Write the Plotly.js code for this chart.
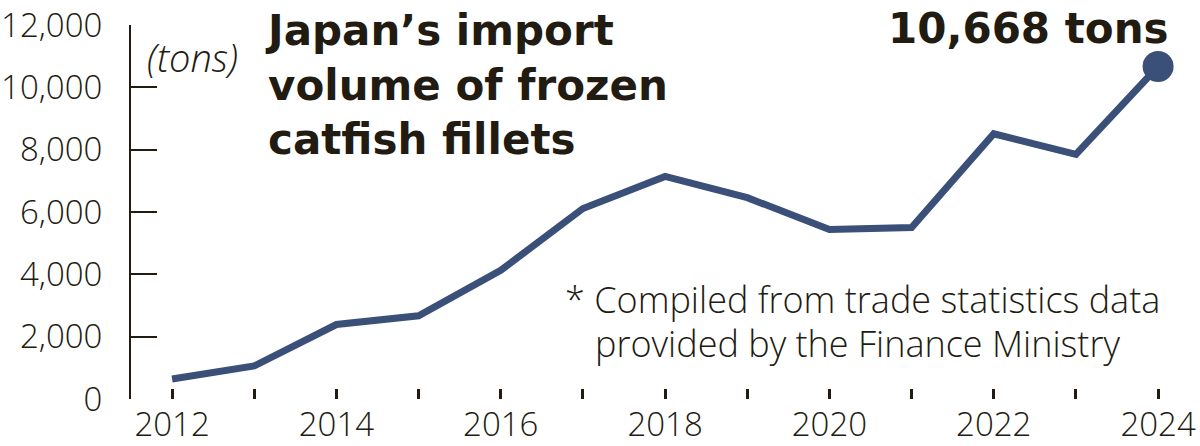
<!DOCTYPE html>
<html>
<head>
<meta charset="utf-8">
<script src="https://cdn.plot.ly/plotly-3.0.1.min.js"></script>
<style>
  html, body { margin: 0; padding: 0; background: #ffffff; }
  #chart { width: 1200px; height: 446px; }
</style>
</head>
<body>
<div id="chart"></div>
<script>
// ---- data ----
const years = [2012, 2013, 2014, 2015, 2016, 2017, 2018, 2019, 2020, 2021, 2022, 2023, 2024];
const importTons = [640, 1060, 2390, 2670, 4130, 6110, 7140, 6460, 5440, 5500, 8510, 7850, 10668];
const xTickLabels = ['2012', '', '2014', '', '2016', '', '2018', '', '2020', '', '2022', '', '2024'];
const yTickValues = [0, 2000, 4000, 6000, 8000, 10000, 12000];
const titleLines = ['Japan’s import', 'volume of frozen', 'catfish fillets'];
const unitLabel = '(tons)';
const noteLines = ['* Compiled from trade statistics data', 'provided by the Finance Ministry'];

const lineColor = '#3a5079';
const inkColor = '#221b12';
const lightFamily = '"Open Sans", "Liberation Sans", sans-serif';
const tickFont = { family: lightFamily, size: 33, color: inkColor, weight: 300 };
const noteFont = { family: lightFamily, size: 36, color: inkColor, weight: 300 };
const boldFont = { family: '"DejaVu Sans", sans-serif', size: 42, color: inkColor, weight: 700 };

const lastX = years[years.length - 1];
const lastY = importTons[importTons.length - 1];

const traces = [
  {
    x: years, y: importTons, type: 'scatter', mode: 'lines',
    line: { color: lineColor, width: 7 },
    hoverinfo: 'skip', showlegend: false
  },
  {
    x: [lastX], y: [lastY], type: 'scatter', mode: 'markers',
    marker: { color: lineColor, size: 31 },
    hoverinfo: 'skip', showlegend: false
  }
];

const layout = {
  width: 1200, height: 446,
  margin: { l: 131, r: 0, t: 25, b: 47, pad: 0 },
  paper_bgcolor: '#ffffff', plot_bgcolor: '#ffffff',
  showlegend: false,
  title: {
    text: titleLines.join('<br>'),
    font: boldFont,
    xref: 'container', yref: 'container',
    x: 268 / 1200, xanchor: 'left',
    y: 1 - 45 / 446, yanchor: 'top',
    pad: { t: 0, b: 0, l: 0, r: 0 }
  },
  xaxis: {
    range: [2011.5, 2024.51],
    tickmode: 'array', tickvals: years, ticktext: xTickLabels,
    ticks: 'inside', ticklen: 10, tickwidth: 3, tickcolor: inkColor,
    showline: false, showgrid: false, zeroline: false,
    tickfont: tickFont, ticklabelstandoff: 3,
    fixedrange: true
  },
  yaxis: {
    range: [0, 12000],
    tickmode: 'array', tickvals: yTickValues,
    tickformat: ',d',
    ticks: 'inside', ticklen: 26, tickwidth: 2, tickcolor: inkColor,
    showline: true, linecolor: inkColor, linewidth: 2,
    showgrid: false, zeroline: false,
    tickfont: tickFont, ticklabelstandoff: 20,
    fixedrange: true
  },
  annotations: [
    {
      xref: 'x', yref: 'y', x: lastX, y: lastY,
      text: lastY.toLocaleString('en-US') + ' tons',
      showarrow: false, xanchor: 'right', yanchor: 'middle',
      xshift: 13, yshift: 38,
      font: boldFont
    },
    {
      xref: 'paper', yref: 'paper', x: (145 - 131) / 1069, y: (399 - 57) / 374,
      text: '<i>' + unitLabel + '</i>', showarrow: false,
      xanchor: 'left', yanchor: 'middle',
      font: { family: lightFamily, size: 38, color: inkColor, weight: 300 }
    },
    {
      xref: 'paper', yref: 'paper', x: (563 - 131) / 1069, y: (399 - 299) / 374,
      text: noteLines[0], showarrow: false,
      xanchor: 'left', yanchor: 'middle', font: noteFont
    },
    {
      xref: 'paper', yref: 'paper', x: (593 - 131) / 1069, y: (399 - 343) / 374,
      text: noteLines[1], showarrow: false,
      xanchor: 'left', yanchor: 'middle', font: noteFont
    }
  ]
};

Plotly.newPlot('chart', traces, layout, { displayModeBar: false, staticPlot: true });
</script>
</body>
</html>
